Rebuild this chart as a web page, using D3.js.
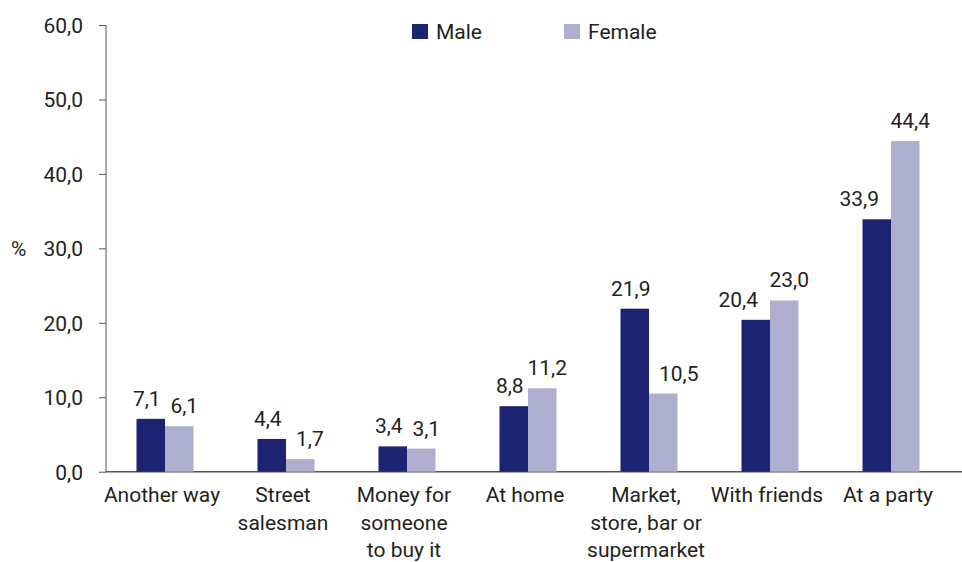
<!DOCTYPE html>
<html>
<head>
<meta charset="utf-8" />
<script src="https://cdn.jsdelivr.net/npm/d3@7"></script>
<style>
body { margin: 0; background: #fff; }
text { font-family: Roboto, "Noto Sans", sans-serif; fill: #231f20; }
.axis text { font-size: 21px; }
.axis path, .axis line { stroke: #555; }
.val { font-size: 21px; }
.cat { font-size: 21px; }
</style>
</head>
<body>
<svg id="chart" width="962" height="562"></svg>
<script>
var categories = [
  ["Another way"],
  ["Street", "salesman"],
  ["Money for", "someone", "to buy it"],
  ["At home"],
  ["Market,", "store, bar or", "supermarket"],
  ["With friends"],
  ["At a party"]
];
var series = ["Male", "Female"];
var male = [7.1, 4.4, 3.4, 8.8, 21.9, 20.4, 33.9];
var female = [6.1, 1.7, 3.1, 11.2, 10.5, 23.0, 44.4];
var yTicks = [0, 10, 20, 30, 40, 50, 60];
var colors = ["#1c2472", "#aeaecf"];

var svg = d3.select("#chart");
var y0 = 471.7, yTop = 25, xLeft = 104.5, xRight = 951.5, axisX = 106;

var y = d3.scaleLinear().domain([0, 60]).range([y0, yTop]);
var x = d3.scaleBand().domain(d3.range(categories.length)).range([xLeft, xRight]);
var xs = d3.scaleBand().domain(series).range([x.bandwidth() / 2 - 28.5, x.bandwidth() / 2 + 28.5]);

var fmt = function(v) { return d3.format(".1f")(v).replace(".", ","); };

// y axis
var yAxis = d3.axisLeft(y).tickValues(yTicks).tickSize(7).tickPadding(16).tickFormat(fmt);
svg.append("g").attr("class", "axis")
  .attr("transform", "translate(" + axisX + ",0)")
  .call(yAxis)
  .call(function(g) { g.select(".domain").attr("d", "M0," + yTop + "V" + (y0 + 0.5)); g.selectAll(".tick text").attr("dy", "0.35em"); });

svg.append("text").attr("x", 11).attr("y", y(30)).attr("dy", "0.35em")
  .style("font-size", "21px").text("%");

// x axis line
svg.append("line").attr("x1", axisX).attr("x2", 962).attr("y1", y0).attr("y2", y0)
  .attr("stroke", "#555").attr("stroke-width", 1.5);

var rows = categories.map(function(c, i) { return { i: i, vals: [male[i], female[i]] }; });

var groups = svg.selectAll("g.cat").data(rows).enter().append("g")
  .attr("class", "cat")
  .attr("transform", function(d) { return "translate(" + x(d.i) + ",0)"; });

groups.selectAll("rect").data(function(d) { return d.vals.map(function(v, k) { return { k: k, v: v }; }); })
  .enter().append("rect")
  .attr("x", function(d) { return xs(series[d.k]); })
  .attr("width", xs.bandwidth())
  .attr("y", function(d) { return y(d.v); })
  .attr("height", function(d) { return y0 - y(d.v); })
  .attr("fill", function(d) { return colors[d.k]; });

// value labels, nudged aside when the neighbouring bar is taller
groups.each(function(d) {
  var g = d3.select(this);
  var m = d.vals[0], f = d.vals[1];
  var mx = xs("Male"), fx = xs("Female"), bw = xs.bandwidth();
  var t1 = g.append("text").attr("class", "val").attr("y", y(m) - 13).text(fmt(m));
  if (f - m > 2.5) t1.attr("x", fx - 12).attr("text-anchor", "end");
  else t1.attr("x", mx + bw / 2 - 4).attr("text-anchor", "middle");
  var t2 = g.append("text").attr("class", "val").attr("y", y(f) - 13).text(fmt(f));
  if (m - f > 2.5) t2.attr("x", fx + 10).attr("text-anchor", "start");
  else t2.attr("x", fx + bw / 2 + 5).attr("text-anchor", "middle");
});

// category labels
groups.append("text").attr("class", "cat")
  .attr("text-anchor", "middle")
  .attr("x", x.bandwidth() / 2 - 3)
  .attr("y", 502)
  .selectAll("tspan").data(function(d) { return categories[d.i]; })
  .enter().append("tspan")
  .attr("x", x.bandwidth() / 2 - 3)
  .attr("dy", function(d, j) { return j === 0 ? 0 : 27.5; })
  .text(function(d) { return d; });

// legend
var legend = svg.append("g");
var legX = [412, 564];
series.forEach(function(s, k) {
  legend.append("rect").attr("x", legX[k]).attr("y", 24).attr("width", 16).attr("height", 15).attr("fill", colors[k]);
  legend.append("text").attr("x", legX[k] + 24).attr("y", 39).style("font-size", "21px").text(s);
});
</script>
</body>
</html>
